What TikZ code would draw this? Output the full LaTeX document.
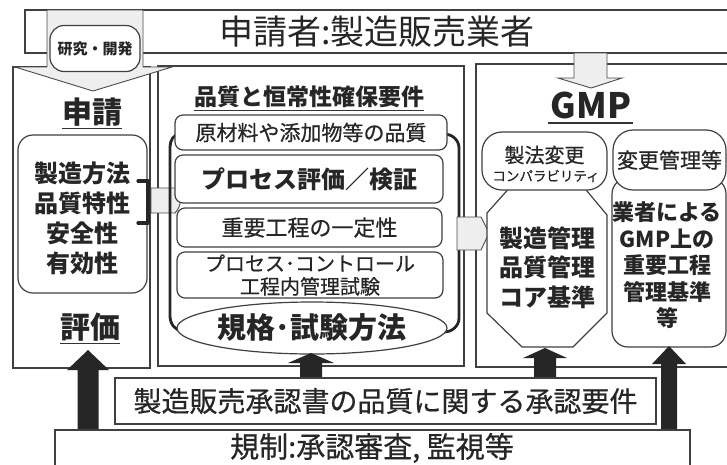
\documentclass[tikz,border=0pt]{standalone}
\usepackage{fontspec}
\newfontfamily\jp{Noto Sans CJK JP}
\newfontface\jpm[FakeBold=0.6]{Noto Sans CJK JP}
\usetikzlibrary{shapes.geometric}
\newcommand{\fsz}[2]{\fontsize{#1}{#2}\selectfont}
% block arrow: x, bottom y, tip y, head-base y, half shaft, half head
\newcommand{\blockarr}[6]{%
  \fill[black!85] (#1-#5,#2) -- (#1-#5,#4) -- (#1-#6,#4) -- (#1,#3) -- (#1+#6,#4) -- (#1+#5,#4) -- (#1+#5,#2) -- cycle;}
\begin{document}
\begin{tikzpicture}[x=1pt,y=-1pt,
  frame/.style={draw=black!75, line width=1.1pt},
  rbox/.style={draw=black!75, line width=1.2pt, rounded corners=8pt, fill=white, inner sep=0pt},
  stip/.style={draw=black!70, line width=0.9pt, fill=gray!13},
  txt/.style={text=black!85, font=\jp, inner sep=0pt, align=center},
  uline/.style={draw=black!80, line width=1.1pt},
  br/.style={draw=black!85, line width=2.8pt, line cap=round, line join=round}]
\clip (0,0) rectangle (727,464);
\fill[white] (0,0) rectangle (727,464);

% column frames
\draw[frame] (13,67) rectangle (150,368);
\draw[frame] (158,66) rectangle (464,366);
\draw[frame] (476,64) rectangle (740,367);

% top band
\draw[frame, fill=white] (25,10) rectangle (740,53);
\node[txt, font=\jp\fsz{34}{38}] (title) at (377,32) {申請者:製造販売業者};

% stippled arrow research -> application
\draw[stip] (47,10) -- (143,10) -- (143,67) -- (172,67) -- (93,91) -- (15,67) -- (47,67) -- cycle;
\node[rbox, rounded corners=14pt, minimum width=90pt, minimum height=46pt,
      txt, font=\jp\bfseries\fsz{15}{17}] (kk) at (95,48.5) {研究・開発};

% stippled arrow band -> GMP
\draw[stip] (574,53) -- (607,53) -- (607,78) -- (622,78) -- (591,88) -- (558,78) -- (574,78) -- cycle;

% ---------- left column ----------
\node[txt, font=\jp\bfseries\fsz{30}{34}] (shinsei) at (92,112) {申請};
\draw[uline] ([yshift=-2pt]shinsei.south west) -- ([yshift=-2pt]shinsei.south east);
\node[rbox, rounded corners=15pt, minimum width=129pt, minimum height=158pt] (props) at (82.5,214) {};
\node[txt, font=\jp\bfseries\fsz{24}{30}] (propstext) at (82,218) {製造方法\\品質特性\\安全性\\有効性};
\draw[br, line width=3.2pt] (138,181) -- (148,181) -- (148,223) -- (138,223);
\node[txt, font=\jp\bfseries\fsz{30}{34}] (hyoka) at (90,327) {評価};
\draw[uline] ([yshift=-2pt]hyoka.south west) -- ([yshift=-2pt]hyoka.south east);

% tab left -> middle
\draw[stip] (151,188) -- (175,188) .. controls (182,195) and (182,206) .. (175,213) -- (151,213) -- cycle;

% ---------- middle column ----------
\node[txt, font=\jp\bfseries\fsz{23}{26}] (midtitle) at (309,97) {品質と恒常性確保要件};
\draw[uline] ([yshift=-2pt]midtitle.south west) -- ([yshift=-2pt]midtitle.south east);

\draw[br] (180,134) to[out=180,in=90] (170,147) -- (170,316) to[out=-90,in=180] (183,331);
\draw[br] (444,134) to[out=0,in=90] (459,148) -- (459,318) to[out=-90,in=0] (444,332);

\node[rbox, minimum width=272pt, minimum height=35pt, txt, font=\jpm\fsz{21}{24}] (b1) at (311,132.5) {原材料や添加物等の品質};
\node[rbox, minimum width=268pt, minimum height=48pt, txt, font=\jp\bfseries\fsz{24}{28}] (b2) at (309,179) {プロセス評価／検証};
\node[rbox, minimum width=265pt, minimum height=39pt, txt, font=\jpm\fsz{22}{25}] (b3) at (309.5,227.5) {重要工程の一定性};
\node[rbox, minimum width=266pt, minimum height=46pt, txt, font=\jpm\fsz{20}{23}] (b4) at (310,275) {プロセス･コントロール\\工程内管理試験};
\node[ellipse, draw=black!75, line width=1.2pt, fill=white, inner sep=0pt, minimum width=270pt, minimum height=52pt,
      txt, font=\jp\bfseries\fsz{29}{32}] (b5) at (312,328) {規格･試験方法};

% tab middle -> right
\draw[stip] (457,217) -- (481,217) -- (489,233) -- (481,250) -- (457,250) -- cycle;

% ---------- right column ----------
\node[txt, font=\jp\bfseries\fsz{35}{38}] (gmp) at (591,105) {GMP};
\draw[uline] (548,123) -- (633,123);

\draw[draw=black!75, line width=1.2pt, fill=white] (512,185) -- (582,185) -- (607,215) -- (607,313) -- (573,347)
  -- (522,347) -- (487,313) -- (487,213) -- cycle;
\node[txt, font=\jp\bfseries\fsz{24}{29.5}] (core) at (547,267.5) {製造管理\\品質管理\\コア基準};
\node[rbox, rounded corners=20pt, minimum width=125pt, minimum height=58pt] (seiho) at (544.5,161) {};
\node[txt, font=\jpm\fsz{20}{22}] (seihotext) at (544.5,155) {製法変更};
\node[txt, font=\jpm\fsz{13.5}{15}] (compa) at (546,176) {コンパラビリティ};

\draw[draw=black!75, line width=1.2pt, fill=white, rounded corners=16pt] (612,178) rectangle (726,347);
\node[txt, font=\jp\bfseries\fsz{22}{26.5}] (gyosha) at (667,265.5) {業者による\\GMP上の\\重要工程\\管理基準\\等};
\node[rbox, rounded corners=20pt, minimum width=113pt, minimum height=60pt, txt, font=\jpm\fsz{21}{24}] (henko) at (669.5,160) {変更管理等};

% ---------- black arrows ----------
\blockarr{88}{434}{350}{370}{10.5}{21}
\blockarr{311}{380}{353}{363}{11}{23}
\blockarr{545}{380}{348}{358}{11}{22}
\blockarr{669}{432}{346}{364}{8}{17}

% ---------- bottom boxes ----------
\node[draw=black!75, line width=1.2pt, fill=white, minimum width=541pt, minimum height=46pt,
      txt, font=\jpm\fsz{28}{30}] (shonin) at (385.5,401) {製造販売承認書の品質に関する承認要件};
\node[draw=black!75, line width=1.2pt, fill=white, minimum width=635pt, minimum height=46pt] (kisei) at (372.5,453) {};
\node[txt, font=\jpm\fsz{29}{31}] (kiseitext) at (372,448) {規制:承認審査, 監視等};
\end{tikzpicture}
\end{document}
